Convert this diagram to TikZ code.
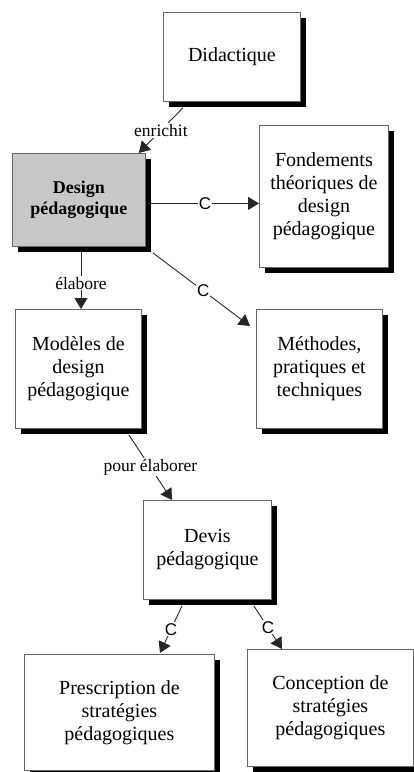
\documentclass[tikz,border=0pt]{standalone}
\usepackage{fontspec}
\setmainfont{Liberation Serif}
\newfontfamily\clabelfont{Liberation Sans}
\usetikzlibrary{arrows.meta,shadows}
\definecolor{boxgray}{RGB}{200,200,200}
\tikzset{
  concept/.style={draw=black!60, line width=0.8pt, fill=white, anchor=north west,
    inner sep=0pt, align=center, text=black,
    font=\fontsize{20}{23}\selectfont,
    drop shadow={shadow xshift=6pt, shadow yshift=-6pt, opacity=1, fill=black}},
  link/.style={draw=black!85, line width=0.9pt, -{Triangle[length=11pt,width=13pt]}},
  rel/.style={fill=white, inner sep=1pt, font=\fontsize{17.5}{20}\selectfont},
  crel/.style={fill=white, inner sep=1pt, font=\clabelfont\fontsize{17}{19}\selectfont},
}
\begin{document}
\begin{tikzpicture}[x=1pt,y=-1pt]
\useasboundingbox (0,0) rectangle (414,772);

% concept boxes
\node[concept, minimum width=137pt, minimum height=89pt] (did) at (163,12) {Didactique};
\node[concept, fill=boxgray, minimum width=133pt, minimum height=93pt,
      font=\bfseries\fontsize{18}{21}\selectfont] (des) at (12,153) {Design\\pédagogique};
\node[concept, minimum width=129pt, minimum height=142pt] (fon) at (259,125)
      {Fondements\\théoriques de\\design\\pédagogique};
\node[concept, minimum width=126pt, minimum height=119pt] (met) at (256,309)
      {Méthodes,\\pratiques et\\techniques};
\node[concept, minimum width=126pt, minimum height=119pt] (mod) at (15,309)
      {Modèles de\\design\\pédagogique};
\node[concept, minimum width=128pt, minimum height=99pt] (dev) at (143,500)
      {Devis\\pédagogique};
\node[concept, minimum width=190pt, minimum height=116pt] (pre) at (24,654)
      {Prescription de\\stratégies\\pédagogiques};
\node[concept, minimum width=166pt, minimum height=117pt] (con) at (247,649)
      {Conception de\\stratégies\\pédagogiques};

% relations (shifts are in page units: negative yshift goes down)
\draw[link] ([xshift=20pt,yshift=-6pt]did.south west) --
      node[rel, pos=0.5] {enrichit} ([xshift=-7pt]des.north east);
\draw[link] ([xshift=5pt,yshift=-3.5pt]des.east) --
      node[crel, pos=0.5] {C} ([yshift=-7pt]fon.west);
\draw[link] ([xshift=7pt,yshift=-6pt]des.south east) --
      node[crel, pos=0.52] {C} ([xshift=-6pt,yshift=-17pt]met.north west);
\draw[link] ([xshift=69pt,yshift=-5pt]des.south west) --
      node[rel, pos=0.55] {élabore} ([xshift=66pt]mod.north west);
\draw[link] ([xshift=-13pt,yshift=-6pt]mod.south east) --
      node[rel, pos=0.5] {pour élaborer} ([xshift=29pt]dev.north west);
\draw[link] ([xshift=39pt,yshift=-6pt]dev.south west) --
      node[crel, pos=0.5] {C} ([xshift=136pt,yshift=1pt]pre.north west);
\draw[link] ([xshift=-18pt,yshift=-6pt]dev.south east) --
      node[crel, pos=0.5] {C} ([xshift=35pt]con.north west);
\end{tikzpicture}
\end{document}
